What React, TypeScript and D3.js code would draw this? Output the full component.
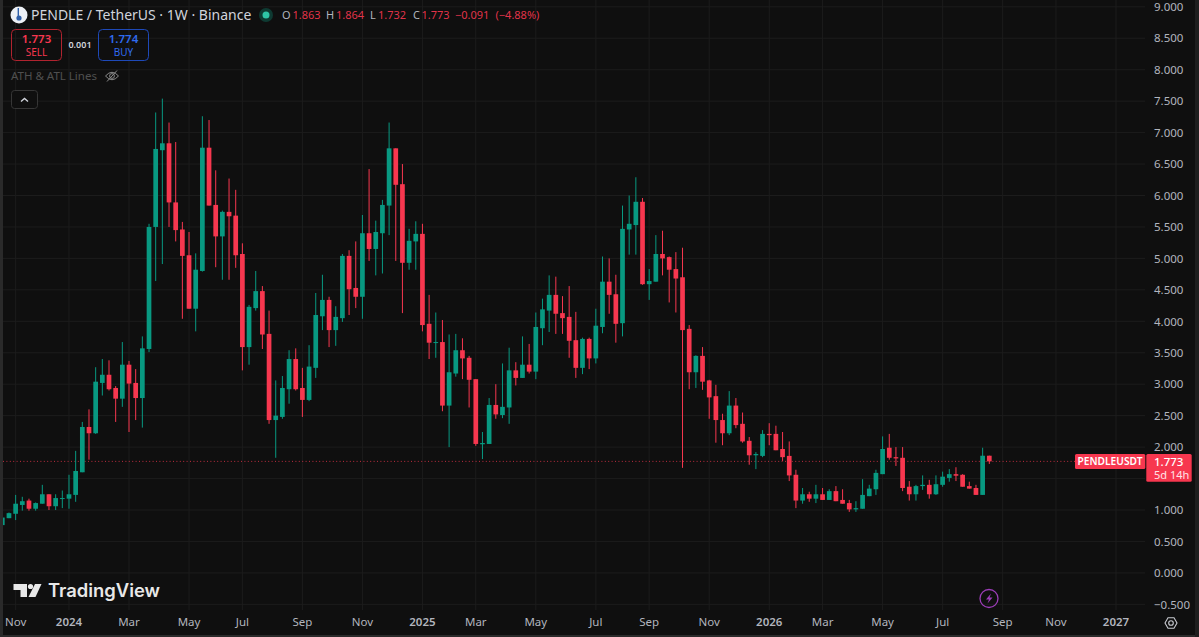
import React from "react";
import * as d3 from "d3";

const opens = [.76,.87,.94,1.08,1.15,1.02,1.10,1.25,1.06,1.175,1.18,1.24,1.60,2.32,2.22,3.02,3.15,2.94,2.77,3.31,3.02,2.78,3.56,5.50,6.72,6.83,5.89,5.46,5.05,4.20,4.80,6.76,5.85,5.35,5.74,5.68,5.07,3.59,4.21,4.48,3.80,2.43,2.48,2.92,3.40,2.94,2.75,3.26,4.08,4.34,3.86,4.05,5.04,4.53,4.39,5.40,5.15,5.40,5.84,6.75,6.18,4.93,5.27,5.39,3.96,3.655,3.67,2.66,3.17,3.54,3.42,3.08,2.045,2.05,2.67,2.51,2.63,3.22,3.10,3.31,3.20,3.89,4.17,4.42,4.13,4.07,3.70,3.26,3.72,3.41,3.91,4.63,4.43,3.97,5.46,5.53,5.90,4.59,4.63,5.07,5.02,4.83,4.70,3.88,3.19,3.45,3.06,2.81,2.43,2.22,2.66,2.37,2.10,1.87,1.86,2.21,2.21,1.97,1.86,1.56,1.15,1.25,1.18,1.25,1.16,1.30,1.16,1.11,1.01,1.02,1.22,1.33,1.57,1.99,1.84,1.83,1.37,1.25,1.38,1.40,1.25,1.40,1.51,1.57,1.56,1.38,1.35,1.24,1.863];
const highs = [.89,.96,1.24,1.21,1.18,1.12,1.40,1.25,1.25,1.31,1.56,1.94,2.40,2.60,3.27,3.40,3.38,2.97,3.67,3.37,3.24,3.76,5.55,7.32,7.54,7.16,6.85,5.58,5.42,5.08,7.26,7.20,6.40,5.76,6.27,6.09,5.24,4.26,4.80,4.56,4.17,3.06,3.13,3.54,3.57,3.26,3.62,4.45,4.74,4.39,4.24,5.07,5.13,5.27,5.69,6.42,5.60,5.93,7.16,6.75,6.50,5.47,5.59,5.55,4.42,4.14,4.02,3.79,3.80,3.73,3.45,3.08,2.24,2.78,3.00,3.33,3.58,3.35,3.76,3.64,4.14,4.36,4.73,4.71,4.40,4.56,4.15,3.74,3.74,4.20,5.03,5.00,4.74,5.84,6.00,6.29,5.96,4.83,5.37,5.44,5.03,5.10,5.17,3.94,3.46,3.59,3.07,2.99,2.53,2.89,2.78,2.55,2.16,1.92,2.27,2.38,2.34,2.24,2.09,1.64,1.35,1.29,1.40,1.35,1.33,1.38,1.33,1.16,1.14,1.49,1.40,1.64,2.17,2.21,2.00,2.00,1.46,1.40,1.55,1.48,1.55,1.61,1.65,1.68,1.57,1.45,1.40,1.99,1.864];
const lows = [.75,.87,.84,.99,.99,.99,1.10,1.00,1.00,1.03,1.02,1.13,1.60,1.80,2.21,2.82,2.90,2.40,2.64,2.24,2.43,2.31,3.51,4.64,4.91,5.50,5.27,4.04,4.20,3.84,4.79,5.84,4.86,4.66,4.66,4.85,3.22,3.31,4.17,3.56,2.37,1.83,2.45,2.69,2.90,2.48,2.73,3.10,3.86,3.59,3.61,3.99,4.10,4.21,4.04,4.96,4.73,4.76,5.37,4.96,4.13,4.82,4.82,3.84,3.40,3.42,2.57,2.00,3.12,3.08,2.63,2.02,1.81,2.05,2.45,2.46,2.37,2.98,3.10,3.17,3.08,3.62,3.83,3.80,3.80,3.42,3.10,3.16,3.24,3.33,3.81,4.12,3.66,3.76,5.06,5.06,4.58,4.34,4.63,4.73,4.30,4.14,1.67,2.92,2.94,2.91,2.45,2.07,2.03,2.19,2.30,2.07,1.72,1.65,1.84,2.03,1.95,1.78,1.46,1.03,1.10,1.13,1.11,1.16,1.16,1.14,1.10,.97,.97,1.02,1.22,1.24,1.57,1.80,1.70,1.30,1.15,1.15,1.32,1.18,1.24,1.37,1.45,1.46,1.37,1.34,1.24,1.24,1.732];
const closes = [.88,.95,1.10,1.14,1.02,1.11,1.25,1.06,1.19,1.19,1.25,1.62,2.32,2.22,3.04,3.15,2.92,2.77,3.31,3.01,2.78,3.57,5.50,6.74,6.83,5.89,5.45,5.04,4.20,4.82,6.76,5.84,5.35,5.74,5.67,5.05,3.59,4.23,4.48,3.79,2.43,2.50,2.94,3.40,2.92,2.75,3.28,4.10,4.34,3.86,4.07,5.04,4.51,4.39,5.40,5.15,5.42,5.85,6.75,6.17,4.93,5.28,5.39,3.94,3.66,3.67,2.66,3.19,3.54,3.41,3.07,2.05,2.065,2.67,2.52,2.64,3.22,3.10,3.31,3.20,3.91,4.19,4.42,4.12,4.05,3.69,3.26,3.72,3.41,3.93,4.63,4.42,3.96,5.47,5.55,5.90,4.59,4.64,5.07,5.00,4.82,4.68,3.86,3.19,3.45,3.04,2.79,2.43,2.22,2.66,2.35,2.09,1.87,1.89,2.21,2.19,1.95,1.84,1.55,1.15,1.25,1.18,1.25,1.16,1.30,1.14,1.10,1.01,1.03,1.24,1.34,1.59,1.97,1.83,1.82,1.35,1.25,1.38,1.40,1.25,1.41,1.53,1.57,1.545,1.37,1.34,1.24,1.863,1.773];

const priceTicks = [9,8.5,8,7.5,7,6.5,6,5.5,5,4.5,4,3.5,3,2.5,2,1,0.5,0,-0.5];
const gridPrices = [9,8.5,8,7.5,7,6.5,6,5.5,5,4.5,4,3.5,3,2.5,2,1.5,1,0.5,0,-0.5];
const timeLabels = ["Nov","2024","Mar","May","Jul","Sep","Nov","2025","Mar","May","Jul","Sep","Nov","2026","Mar","May","Jul","Sep","Nov","2027"];
const timeIndex = [2,10,19,28,36,45,54,63,71,80,89,97,106,115,123,132,141,150,158,167];
const lastPrice = 1.773;

const UP = "#089981";
const DOWN = "#F7374F";
const BG = "#0F0F0F";
const GRID = "#1C1C1C";
const AXIS = "#B2B5BE";
const FONT = "'Noto Sans', Roboto, sans-serif";

export default function App() {
  const W = 1199, H = 637;
  const xs = d3.scaleLinear().domain([0, 148]).range([2.3, 989.3]);
  const ys = d3.scaleLinear().domain([0, 4]).range([572.9, 321.3]);
  const bw = 4.7;
  const py = ys(lastPrice);
  const clipId = "plot";
  return (
    <svg width={W} height={H} viewBox={`0 0 ${W} ${H}`}
      style={{ position: "fixed", left: 0, top: 0, display: "block", background: BG, fontFamily: FONT }}>
      <defs>
        <clipPath id={clipId}><rect x={3} y={0} width={1142} height={610} /></clipPath>
      </defs>
      <rect width={W} height={H} fill={BG} />
      <g clipPath={`url(#${clipId})`}>
        {gridPrices.map((p) => (
          <line key={p} x1={3} x2={1145} y1={ys(p)} y2={ys(p)} stroke={GRID} strokeWidth={1} />
        ))}
        {timeIndex.map((t) => (
          <line key={t} x1={xs(t)} x2={xs(t)} y1={0} y2={610} stroke={GRID} strokeWidth={1} />
        ))}
        <line x1={3} x2={1145} y1={py} y2={py} stroke={DOWN} strokeOpacity={0.75} strokeWidth={1} strokeDasharray="1 2.4" />
        {opens.map((o, i) => {
          const c = closes[i];
          const col = c >= o ? UP : DOWN;
          const top = ys(Math.max(o, c));
          const bot = ys(Math.min(o, c));
          return (
            <g key={i}>
              <line x1={xs(i)} x2={xs(i)} y1={ys(highs[i])} y2={ys(lows[i])} stroke={col} strokeWidth={1} />
              <rect x={xs(i) - bw / 2} y={top} width={bw} height={Math.max(bot - top, 1)} fill={col} />
            </g>
          );
        })}
      </g>

      {/* price axis */}
      {priceTicks.map((p) => (
        <text key={p} x={1154} y={ys(p) + 4.2} fontSize={11.5} fill={AXIS}>
          {(p < 0 ? "\u2212" + Math.abs(p).toFixed(3) : p.toFixed(3))}
        </text>
      ))}
      {/* time axis */}
      {timeLabels.map((t, i) => (
        <text key={i} x={xs(timeIndex[i])} y={626} textAnchor="middle" fontSize={11.5}
          fontWeight={/^\d/.test(t) ? 600 : 400} fill={AXIS}>{t}</text>
      ))}

      {/* last price tags */}
      <rect x={1075} y={454} width={70.3} height={15} rx={1.5} fill={DOWN} />
      <text x={1110} y={465.3} textAnchor="middle" fontSize={10.2} fontWeight={600} fill="#fff">PENDLEUSDT</text>
      <rect x={1146.3} y={454} width={45.4} height={27.7} rx={1.5} fill={DOWN} />
      <text x={1154} y={465.5} fontSize={11.5} fontWeight={500} fill="#fff">1.773</text>
      <text x={1154} y={479} fontSize={11} fill="#FFE3E6">5d 14h</text>

      {/* header */}
      <circle cx={19} cy={15} r={8.5} fill="#EDF0F5" />
      <rect x={17.6} y={8} width={1.4} height={9} fill="#2F5FA8" />
      <circle cx={19} cy={18} r={2.6} fill="#2F5FA8" />
      <text x={31} y={20} fontSize={14} fill="#D1D4DC">PENDLE / TetherUS · 1W · Binance</text>
      <circle cx={266} cy={15} r={7} fill="#0E3A32" />
      <circle cx={266} cy={15} r={3.5} fill="#2EC4A6" />
      <g fontSize={11} fill={DOWN} fillOpacity={0.92}>
        <text x={282} y={19} fill={AXIS} fillOpacity={1}>O</text><text x={292.5} y={19}>1.863</text>
        <text x={326} y={19} fill={AXIS} fillOpacity={1}>H</text><text x={336} y={19}>1.864</text>
        <text x={370} y={19} fill={AXIS} fillOpacity={1}>L</text><text x={378} y={19}>1.732</text>
        <text x={413} y={19} fill={AXIS} fillOpacity={1}>C</text><text x={421.5} y={19}>1.773</text>
        <text x={455} y={19}>−0.091</text>
        <text x={495.5} y={19}>(−4.88%)</text>
      </g>

      {/* buy/sell */}
      <rect x={11.5} y={29.5} width={50} height={31} rx={4} fill="none" stroke="#B0232F" strokeWidth={1} />
      <text x={36.5} y={43} textAnchor="middle" fontSize={11.5} fontWeight={600} fill={DOWN}>1.773</text>
      <text x={36.5} y={55.5} textAnchor="middle" fontSize={10} fill={DOWN}>SELL</text>
      <text x={80} y={48} textAnchor="middle" fontSize={9} fontWeight={600} fill="#D1D4DC">0.001</text>
      <rect x={98.5} y={29.5} width={50} height={31} rx={4} fill="none" stroke="#1E49B8" strokeWidth={1} />
      <text x={123.5} y={43} textAnchor="middle" fontSize={11.5} fontWeight={600} fill="#2F6BF0">1.774</text>
      <text x={123.5} y={55.5} textAnchor="middle" fontSize={10} fill="#2F6BF0">BUY</text>

      {/* indicator line */}
      <text x={11} y={80} fontSize={11.5} fill="#4F4F4F">ATH &amp; ATL Lines</text>
      <g fill="none" stroke="#8A8A8A" strokeWidth={1}>
        <path d="M105.5 76 Q112 68.5 118.5 76 Q112 83.5 105.5 76 Z" />
        <circle cx={112} cy={76} r={2.4} />
        <path d="M107 81.5 L117 70.5" />
      </g>
      <rect x={11.5} y={90.5} width={26} height={18} rx={3} fill={BG} stroke="#363636" strokeWidth={1} />
      <path d="M21 101.5 L24.5 98.5 L28 101.5" fill="none" stroke="#D1D4DC" strokeWidth={1.4} />

      {/* watermark */}
      <g fill="#E8E8E8">
        <path d="M13.5 584 H27 V597 H20.5 V590 H13.5 Z" />
        <circle cx={30.5} cy={586.5} r={2.6} />
        <path d="M35 584 H41.5 L35.5 597 H28.5 Z" />
      </g>
      <text x={48} y={597} fontFamily="Inter, 'Noto Sans', sans-serif" fontSize={18.4} fontWeight={600} fill="#E8E8E8">TradingView</text>

      {/* bolt + gear */}
      <circle cx={989} cy={598.5} r={9} fill="none" stroke="#9C3DB8" strokeWidth={1.3} />
      <path d="M991 593.5 L986 599.5 H989 L987.5 603.5 L992.5 597.5 H989.5 Z" fill="#9C3DB8" />
      <path d="M1165 623 L1168 617.8 H1174 L1177 623 L1174 628.2 H1168 Z" fill="none" stroke="#C8CAD0" strokeWidth={1.1} />
      <circle cx={1171} cy={623} r={2.3} fill="none" stroke="#C8CAD0" strokeWidth={1.1} />

      {/* frame */}
      <rect x={0} y={0} width={3} height={H} fill="#2A2A2A" />
      <rect x={0} y={635} width={W} height={2} fill="#2A2A2A" />
      <rect x={1195} y={0} width={4} height={H} fill="#1E1E1E" />
    </svg>
  );
}
